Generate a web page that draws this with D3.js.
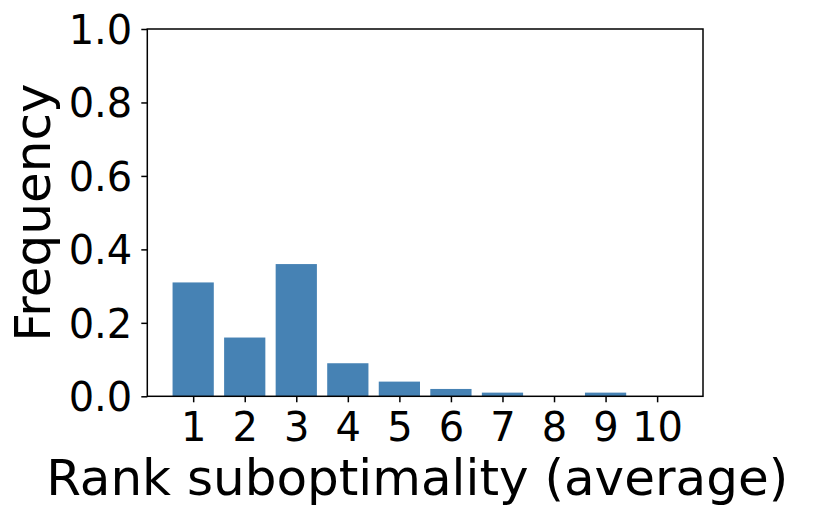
<!DOCTYPE html>
<html><head><meta charset="utf-8">
<script src="https://cdn.jsdelivr.net/npm/d3@7"></script>
<style>body{margin:0;background:#fff}svg{display:block}text{font-family:"DejaVu Sans",sans-serif;fill:#000}</style>
</head><body>
<svg id="c" width="831" height="517"></svg>
<script>
const categories = [1,2,3,4,5,6,7,8,9,10];
const frequency = [0.31,0.16,0.36,0.09,0.04,0.02,0.01,0.0,0.01,0.0];
const yTicks = [0.0,0.2,0.4,0.6,0.8,1.0];
const xLabel = "Rank suboptimality (average)";
const yLabel = "Frequency";

const svg = d3.select("#c");
const L = 147.3, R = 703, T = 29, B = 396.3;
const x = d3.scaleLinear().domain([0.11, 10.89]).range([L, R]);
const y = d3.scaleLinear().domain([0, 1]).range([B, T]);
const bw = 0.8;

svg.selectAll("rect.bar").data(categories).enter().append("rect")
  .attr("class","bar")
  .attr("x", d => x(d - bw/2))
  .attr("width", d => x(d + bw/2) - x(d - bw/2))
  .attr("y", (d,i) => y(frequency[i]))
  .attr("height", (d,i) => y(0) - y(frequency[i]))
  .attr("fill", "#4682b4");

const xAxis = d3.axisBottom(x).tickValues(categories).tickFormat(d3.format("d")).tickSize(6).tickPadding(4);
const gx = svg.append("g").attr("transform", `translate(0,${B})`).call(xAxis);
gx.select(".domain").remove();
gx.selectAll("line").attr("stroke","#000").attr("stroke-width",1.5);
gx.selectAll("text").attr("font-size",40).attr("dy",null).attr("y",44.5);

const yAxis = d3.axisLeft(y).tickValues(yTicks).tickFormat(d3.format(".1f")).tickSize(6).tickPadding(9);
const gy = svg.append("g").attr("transform", `translate(${L},0)`).call(yAxis);
gy.select(".domain").remove();
gy.selectAll("line").attr("stroke","#000").attr("stroke-width",1.5);
gy.selectAll("text").attr("font-size",40).attr("dy","0.36em");

svg.append("rect").attr("x",L).attr("y",T).attr("width",R-L).attr("height",B-T)
  .attr("fill","none").attr("stroke","#000").attr("stroke-width",1.5);

svg.append("text").attr("x",(L+R)/2 - 8).attr("y",495).attr("text-anchor","middle")
  .attr("font-size",50).text(xLabel);
svg.append("text").attr("transform",`translate(50,${(T+B)/2}) rotate(-90)`)
  .attr("text-anchor","middle").attr("font-size",50).text(yLabel);
</script>
</body></html>
